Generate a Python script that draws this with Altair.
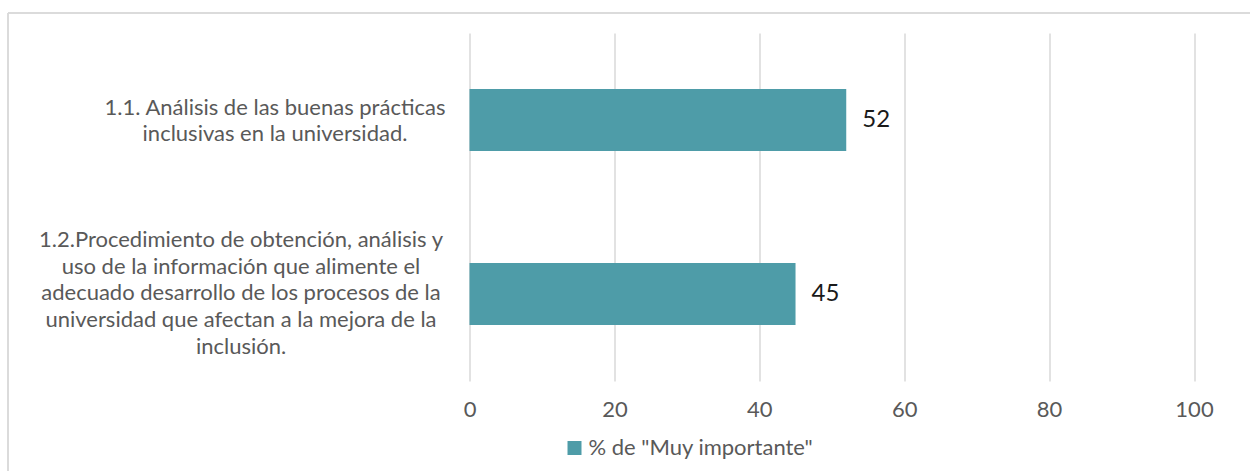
import altair as alt
import pandas as pd

categories = [
    "1.1. Análisis de las buenas prácticas\ninclusivas en la universidad.",
    "1.2.Procedimiento de obtención, análisis y\nuso de la información que alimente el\nadecuado desarrollo de los procesos de la\nuniversidad que afectan a la mejora de la\ninclusión.",
]
values = [52, 45]
series_name = '% de "Muy importante"'
x_ticks = [0, 20, 40, 60, 80, 100]

df = pd.DataFrame({"cat": categories, "val": values, "serie": [series_name] * len(values)})

FONT = "Lato"
GRAY = "#595959"
GRID = "#D9D9D9"
BAR = "#4E9CA8"
FIRST = "indexof(datum.value, '1.1.') == 0"

y_enc = alt.Y(
    "cat:N",
    sort=None,
    title=None,
    scale=alt.Scale(paddingInner=0.644, paddingOuter=0.322),
    axis=alt.Axis(
        domain=False,
        ticks=False,
        tickSize=0,
        grid=False,
        labelExpr="split(datum.label, '\\n')",
        labelAlign="center",
        labelBaseline="middle",
        labelLineHeight=26.7,
        labelFont=FONT,
        labelFontSize=22,
        labelColor=GRAY,
        labelLimit=600,
        labelPadding={"condition": {"test": FIRST, "value": 195}, "value": 229},
        labelOffset={"condition": {"test": FIRST, "value": -12.5}, "value": -54},
    ),
)

x_enc = alt.X(
    "val:Q",
    title=None,
    scale=alt.Scale(domain=[0, 100], nice=False),
    axis=alt.Axis(
        values=x_ticks,
        domain=False,
        ticks=False,
        tickSize=0,
        grid=True,
        gridColor=GRID,
        gridWidth=1.5,
        labelFlush=False,
        labelFont=FONT,
        labelFontSize=22,
        labelColor=GRAY,
        labelPadding=18,
    ),
)

bars = alt.Chart(df).mark_bar(size=62).encode(
    x=x_enc,
    y=y_enc,
    color=alt.Color(
        "serie:N",
        scale=alt.Scale(range=[BAR]),
        legend=alt.Legend(
            title=None,
            orient="none",
            legendX=94,
            legendY=404,
            symbolType="square",
            symbolSize=196,
            symbolStrokeWidth=0,
            labelFont=FONT,
            labelFontSize=22,
            labelColor=GRAY,
            labelLimit=600,
            labelOffset=3,
        ),
    ),
)

labels = alt.Chart(df).mark_text(
    align="left", baseline="middle", dx=16, font=FONT, fontSize=24, color="#1a1a1a"
).encode(x="val:Q", y=alt.Y("cat:N", sort=None), text="val:Q")

border_top = alt.Chart(df).mark_rule(color=GRID, strokeWidth=1.5).encode(
    x=alt.value(-461.5), x2=alt.value(780.5), y=alt.value(-20)
)
border_left = alt.Chart(df).mark_rule(color=GRID, strokeWidth=1.5).encode(
    x=alt.value(-461.5), y=alt.value(-20), y2=alt.value(438)
)

chart = (
    alt.layer(border_top, border_left, bars, labels)
    .properties(
        width=724.5,
        height=348,
        autosize=alt.AutoSizeParams(type="none"),
        padding={"left": 469.5, "top": 33, "right": 56, "bottom": 90},
        background="white",
    )
    .configure_view(stroke=None)
)

chart.save("out.html", embed_options={"renderer": "svg", "actions": False})
